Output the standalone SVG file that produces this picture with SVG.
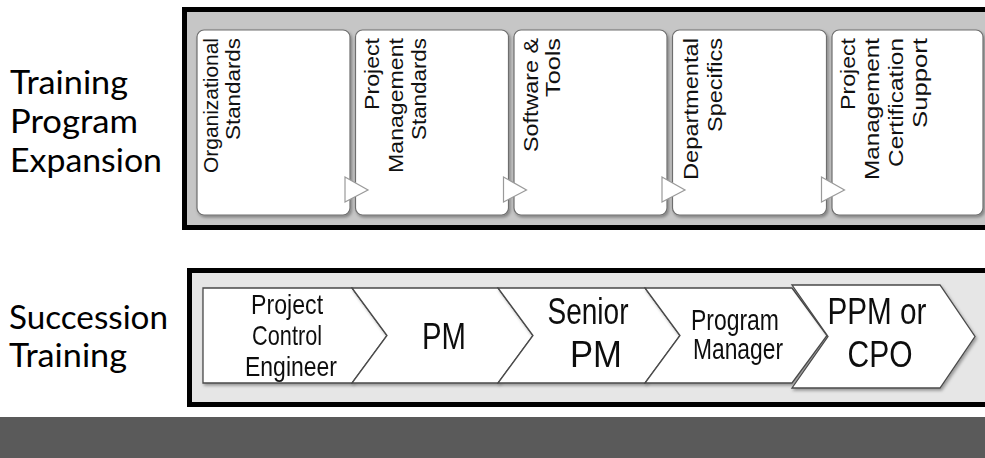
<svg xmlns="http://www.w3.org/2000/svg" width="985" height="458" viewBox="0 0 985 458">
  <style>
    .label { font-family: "Lato", "Open Sans", sans-serif; font-size: 32px; fill: #000; }
    .panel { stroke: #000; stroke-width: 5; }
    .card { fill: #fff; stroke: #6e6e6e; stroke-width: 1.2; }
    .step { fill: #fff; stroke: #9a9a9a; stroke-width: 1.2; }
    .vt { font-family: "Liberation Sans", Arial, sans-serif; font-size: 21px; fill: #111; }
    .chev { fill: #fff; stroke: #4a4a4a; stroke-width: 1.3; }
    .ct { font-family: "Liberation Sans", Arial, sans-serif; fill: #111; text-anchor: middle; }
  </style>
  <defs>
    <filter id="shadow" x="-10%" y="-10%" width="130%" height="130%">
      <feDropShadow dx="1.5" dy="2" stdDeviation="1.5" flood-color="#000" flood-opacity="0.35"/>
    </filter>
  </defs>

  <rect width="985" height="458" fill="#fff"/>

  <!-- side labels -->
  <g id="label-expansion" class="label">
    <text x="10" y="94" textLength="118" lengthAdjust="spacingAndGlyphs">Training</text>
    <text x="10" y="133" textLength="128" lengthAdjust="spacingAndGlyphs">Program</text>
    <text x="10" y="172" textLength="152" lengthAdjust="spacingAndGlyphs">Expansion</text>
  </g>
  <g id="label-succession" class="label">
    <text x="9" y="329" textLength="159" lengthAdjust="spacingAndGlyphs">Succession</text>
    <text x="9" y="367" textLength="118" lengthAdjust="spacingAndGlyphs">Training</text>
  </g>

  <!-- training program panel -->
  <rect id="panel-training" class="panel" x="184.5" y="9.5" width="820" height="218" fill="#c6c6c6"/>

  <g id="card-org" filter="url(#shadow)">
    <rect class="card" x="197" y="30" width="153" height="185" rx="7"/>
  </g>
  <g id="card-pm" filter="url(#shadow)">
    <rect class="card" x="355.5" y="30" width="153" height="185" rx="7"/>
  </g>
  <g id="card-sw" filter="url(#shadow)">
    <rect class="card" x="514" y="30" width="153" height="185" rx="7"/>
  </g>
  <g id="card-dept" filter="url(#shadow)">
    <rect class="card" x="672.5" y="30" width="154" height="185" rx="7"/>
  </g>
  <g id="card-cert" filter="url(#shadow)">
    <rect class="card" x="832" y="30" width="151" height="185" rx="7" stroke="#a8a8a8"/>
  </g>

  <!-- connectors between cards -->
  <g id="connectors">
    <polygon class="step" points="345,177 368,190 345,202"/>
    <polygon class="step" points="503.5,177 526.5,190 503.5,202"/>
    <polygon class="step" points="662,177 685,190 662,202"/>
    <polygon class="step" points="821.5,177 844.5,190 821.5,202"/>
  </g>

  <!-- card texts (rotated, reading upward) -->
  <g id="text-org" class="vt">
    <text transform="translate(218,173) rotate(-90)" textLength="135" lengthAdjust="spacingAndGlyphs">Organizational</text>
    <text transform="translate(240,140) rotate(-90)" textLength="102" lengthAdjust="spacingAndGlyphs">Standards</text>
  </g>
  <g id="text-pm" class="vt">
    <text transform="translate(379,110) rotate(-90)" textLength="72" lengthAdjust="spacingAndGlyphs">Project</text>
    <text transform="translate(403,173) rotate(-90)" textLength="135" lengthAdjust="spacingAndGlyphs">Management</text>
    <text transform="translate(426,140) rotate(-90)" textLength="102" lengthAdjust="spacingAndGlyphs">Standards</text>
  </g>
  <g id="text-sw" class="vt">
    <text transform="translate(538,152) rotate(-90)" textLength="114" lengthAdjust="spacingAndGlyphs">Software &amp;</text>
    <text transform="translate(560,97) rotate(-90)" textLength="59" lengthAdjust="spacingAndGlyphs">Tools</text>
  </g>
  <g id="text-dept" class="vt">
    <text transform="translate(698,180) rotate(-90)" textLength="142" lengthAdjust="spacingAndGlyphs">Departmental</text>
    <text transform="translate(722,132) rotate(-90)" textLength="94" lengthAdjust="spacingAndGlyphs">Specifics</text>
  </g>
  <g id="text-cert" class="vt">
    <text transform="translate(855,110) rotate(-90)" textLength="72" lengthAdjust="spacingAndGlyphs">Project</text>
    <text transform="translate(879,180) rotate(-90)" textLength="142" lengthAdjust="spacingAndGlyphs">Management</text>
    <text transform="translate(903,167) rotate(-90)" textLength="129" lengthAdjust="spacingAndGlyphs">Certification</text>
    <text transform="translate(927,128) rotate(-90)" textLength="90" lengthAdjust="spacingAndGlyphs">Support</text>
  </g>

  <!-- succession panel -->
  <rect id="panel-succession" class="panel" x="189.5" y="270.5" width="820" height="134" fill="#e6e6e6"/>

  <g id="step-pce" filter="url(#shadow)">
    <polygon class="chev" points="203,288 352,288 387,335.5 352,383 203,383"/>
    <text class="ct" font-size="28">
      <tspan x="291" y="314" textLength="72" lengthAdjust="spacingAndGlyphs">Project</tspan>
      <tspan x="291" y="345" textLength="70" lengthAdjust="spacingAndGlyphs">Control</tspan>
      <tspan x="291" y="376" textLength="92" lengthAdjust="spacingAndGlyphs">Engineer</tspan>
    </text>
  </g>
  <g id="step-pm" filter="url(#shadow)">
    <polygon class="chev" points="352,288 498,288 533,335.5 498,383 352,383 387,335.5"/>
    <text class="ct" font-size="36" x="444" y="349" textLength="44" lengthAdjust="spacingAndGlyphs">PM</text>
  </g>
  <g id="step-senior" filter="url(#shadow)">
    <polygon class="chev" points="498,288 645,288 680,335.5 645,383 498,383 533,335.5"/>
    <text class="ct" font-size="36">
      <tspan x="593" y="324" textLength="81" lengthAdjust="spacingAndGlyphs">Senior</tspan>
      <tspan x="596" y="367" textLength="52" lengthAdjust="spacingAndGlyphs">PM</tspan>
    </text>
  </g>
  <g id="step-program" filter="url(#shadow)">
    <polygon class="chev" points="645,288 792,288 827,335.5 792,383 645,383 680,335.5"/>
    <text class="ct" font-size="29">
      <tspan x="739" y="330" textLength="88" lengthAdjust="spacingAndGlyphs">Program</tspan>
      <tspan x="738" y="359" textLength="90" lengthAdjust="spacingAndGlyphs">Manager</tspan>
    </text>
  </g>
  <g id="step-ppm" filter="url(#shadow)">
    <polygon class="chev" points="792,285 940,285 975,336.5 940,388 792,388 828,336.5" stroke="#2a2a2a" stroke-width="1.8"/>
    <text class="ct" font-size="36">
      <tspan x="882" y="324" textLength="99" lengthAdjust="spacingAndGlyphs">PPM or</tspan>
      <tspan x="880" y="367" textLength="65" lengthAdjust="spacingAndGlyphs">CPO</tspan>
    </text>
  </g>

  <!-- footer band -->
  <rect x="0" y="417" width="985" height="41" fill="#5a5a5a"/>
</svg>
